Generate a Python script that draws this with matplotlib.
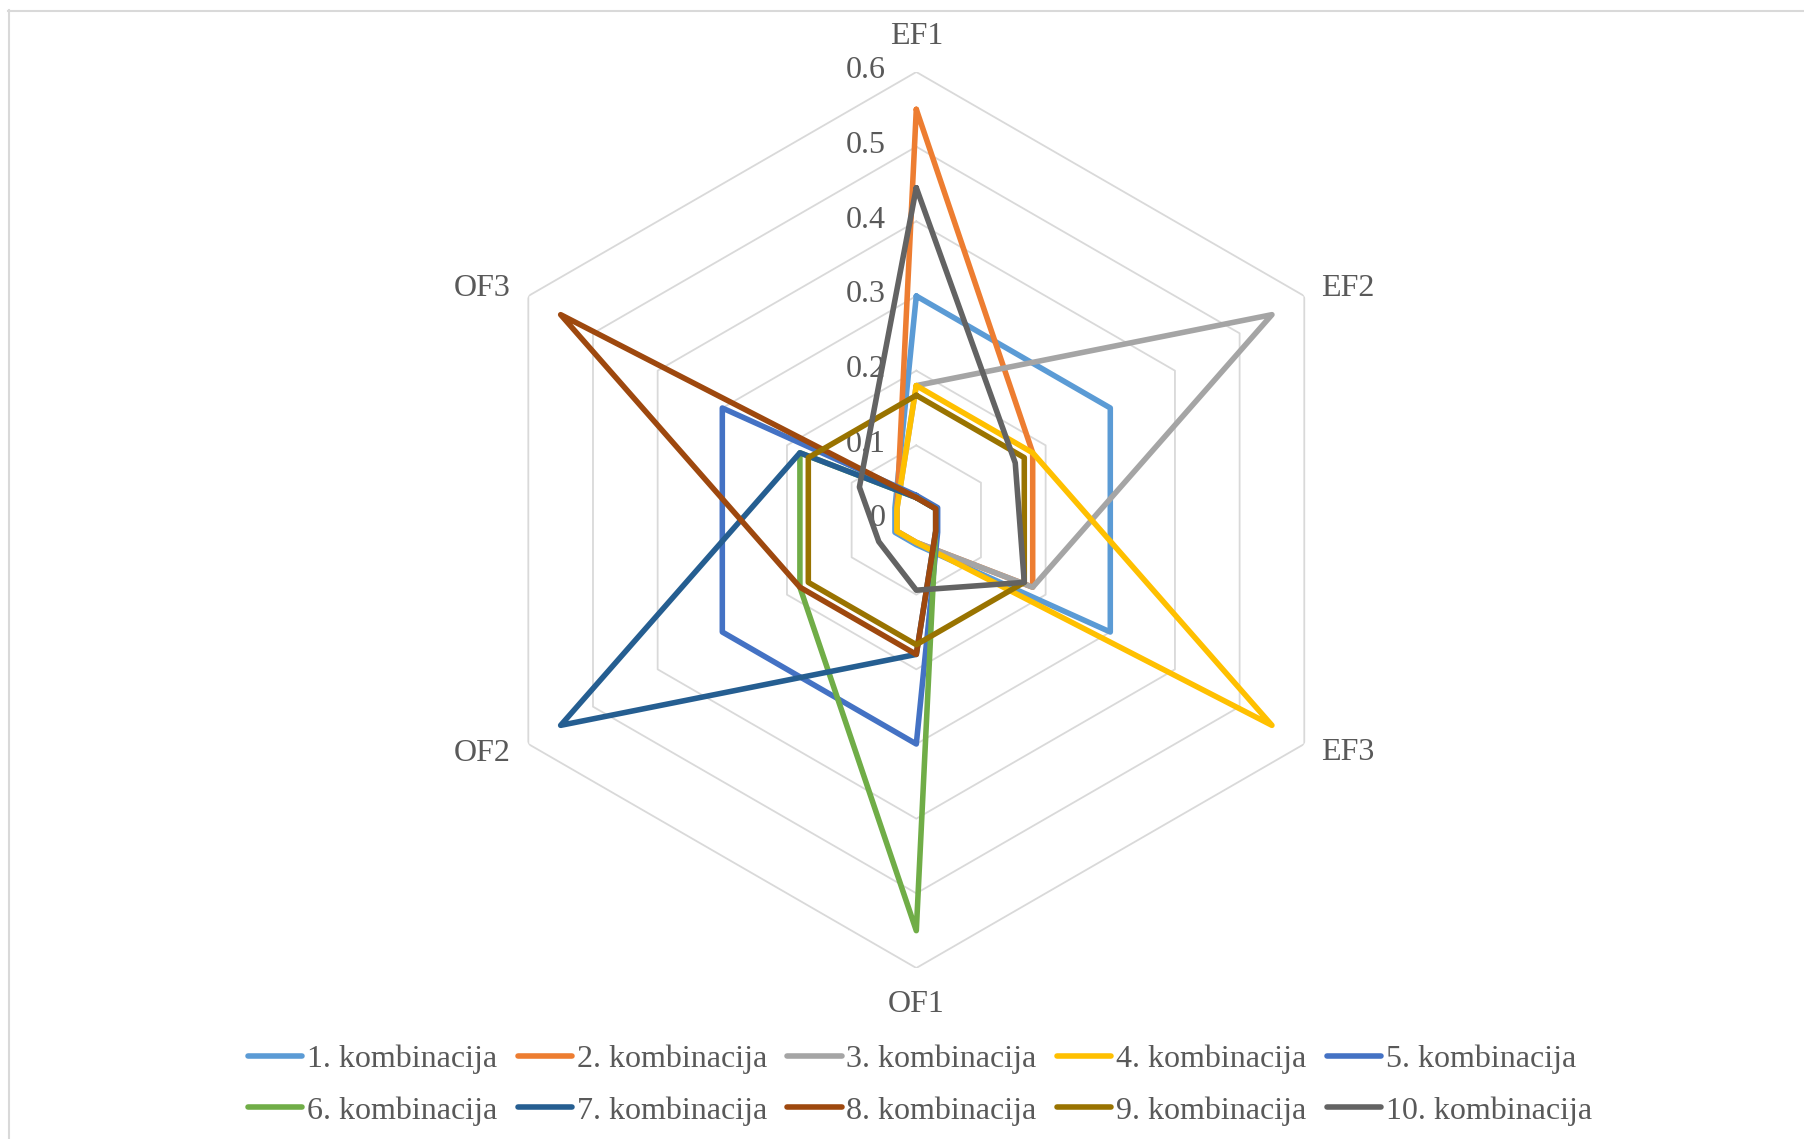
import numpy as np
import matplotlib
matplotlib.use("Agg")
import matplotlib.pyplot as plt
from matplotlib.transforms import offset_copy
from matplotlib.lines import Line2D

plt.rcParams['font.family'] = ['Liberation Serif', 'DejaVu Serif']

categories = ["EF1", "EF2", "EF3", "OF1", "OF2", "OF3"]
series_names = ["1. kombinacija", "2. kombinacija", "3. kombinacija", "4. kombinacija",
                "5. kombinacija", "6. kombinacija", "7. kombinacija", "8. kombinacija",
                "9. kombinacija", "10. kombinacija"]
s1 = [0.30, 0.30, 0.30, 0.033, 0.033, 0.033]
s2 = [0.55, 0.18, 0.18, 0.03, 0.03, 0.03]
s3 = [0.18, 0.55, 0.18, 0.03, 0.03, 0.03]
s4 = [0.18, 0.18, 0.55, 0.03, 0.03, 0.03]
s5 = [0.033, 0.033, 0.033, 0.30, 0.30, 0.30]
s6 = [0.03, 0.03, 0.03, 0.55, 0.18, 0.18]
s7 = [0.03, 0.03, 0.03, 0.18, 0.55, 0.18]
s8 = [0.03, 0.03, 0.03, 0.18, 0.18, 0.55]
s9 = [0.167, 0.167, 0.167, 0.167, 0.167, 0.167]
s10 = [0.445, 0.153, 0.167, 0.094, 0.058, 0.088]
all_series = [s1, s2, s3, s4, s5, s6, s7, s8, s9, s10]
colors = ["#5B9BD5", "#ED7D31", "#A5A5A5", "#FFC000", "#4472C4",
          "#70AD47", "#255E91", "#9E480E", "#997300", "#636363"]
ticks = [0, 0.1, 0.2, 0.3, 0.4, 0.5, 0.6]
tick_labels = ["0", "0.1", "0.2", "0.3", "0.4", "0.5", "0.6"]

W, H = 1804, 1139
fig = plt.figure(figsize=(W / 100, H / 100), dpi=100)
fig.patch.set_facecolor("white")

cx, cy, R = 916.3, 520.0, 448.0
ax = fig.add_axes([(cx - R) / W, 1 - (cy + R) / H, 2 * R / W, 2 * R / H], projection="polar")
ax.set_theta_offset(np.pi / 2)
ax.set_theta_direction(-1)
ax.set_ylim(0, 0.6)
ax.grid(False)
ax.spines["polar"].set_visible(False)
ax.set_xticks([])
ax.set_yticks([])
ax.patch.set_alpha(0)

n = len(categories)
theta = np.arange(n) * 2 * np.pi / n
theta_c = np.append(theta, theta[0])

# hexagonal gridlines
for t in ticks[1:]:
    ax.plot(theta_c, [t] * (n + 1), color="#D9D9D9", lw=1.3, zorder=1)

# tick labels
tcol = "#595959"
tick_tr = offset_copy(ax.transData, fig=fig, x=-31, y=1, units="dots")
for t, lab in zip(ticks, tick_labels):
    ax.text(0, t, lab, transform=tick_tr, ha="right", va="center", fontsize=23,
            color=tcol, zorder=2)

# category labels
offs = [(0, 36, "center"), (17, 7, "left"), (17, -9, "left"),
        (0, -36, "center"), (-18, -9, "right"), (-18, 7, "right")]
for th, lab, (dx, dy, ha) in zip(theta, categories, offs):
    tr = offset_copy(ax.transData, fig=fig, x=dx, y=dy, units="dots")
    ax.text(th, 0.6, lab, transform=tr, ha=ha, va="center", fontsize=23, color=tcol)

handles = []
for vals, c, name in zip(all_series, colors, series_names):
    v = np.append(vals, vals[0])
    ln, = ax.plot(theta_c, v, color=c, lw=4.0, solid_joinstyle="round",
                  solid_capstyle="round", label=name, zorder=3, clip_on=False)
    handles.append(ln)

# legend: row-wise order (matplotlib fills column-wise)
ncol = 5
order = [r * ncol + c for c in range(ncol) for r in range(2)]
leg = fig.legend([handles[i] for i in order], [series_names[i] for i in order],
                 loc="center", bbox_to_anchor=(920 / W, 1 - 1085 / H),
                 ncol=ncol, frameon=False, fontsize=23, handlelength=1.7, handletextpad=0.15,
                 columnspacing=0.64, labelspacing=0.7)
for t in leg.get_texts():
    t.set_color(tcol)

# chart border (left and top visible)
fig.add_artist(Line2D([8.5 / W, 8.5 / W], [0, 1 - 10 / H], color="#D9D9D9", lw=1.5,
                      transform=fig.transFigure))
fig.add_artist(Line2D([8 / W, 1], [1 - 10.5 / H, 1 - 10.5 / H], color="#D9D9D9", lw=1.5,
                      transform=fig.transFigure))

fig.savefig("out.png", dpi=100, facecolor="white")
